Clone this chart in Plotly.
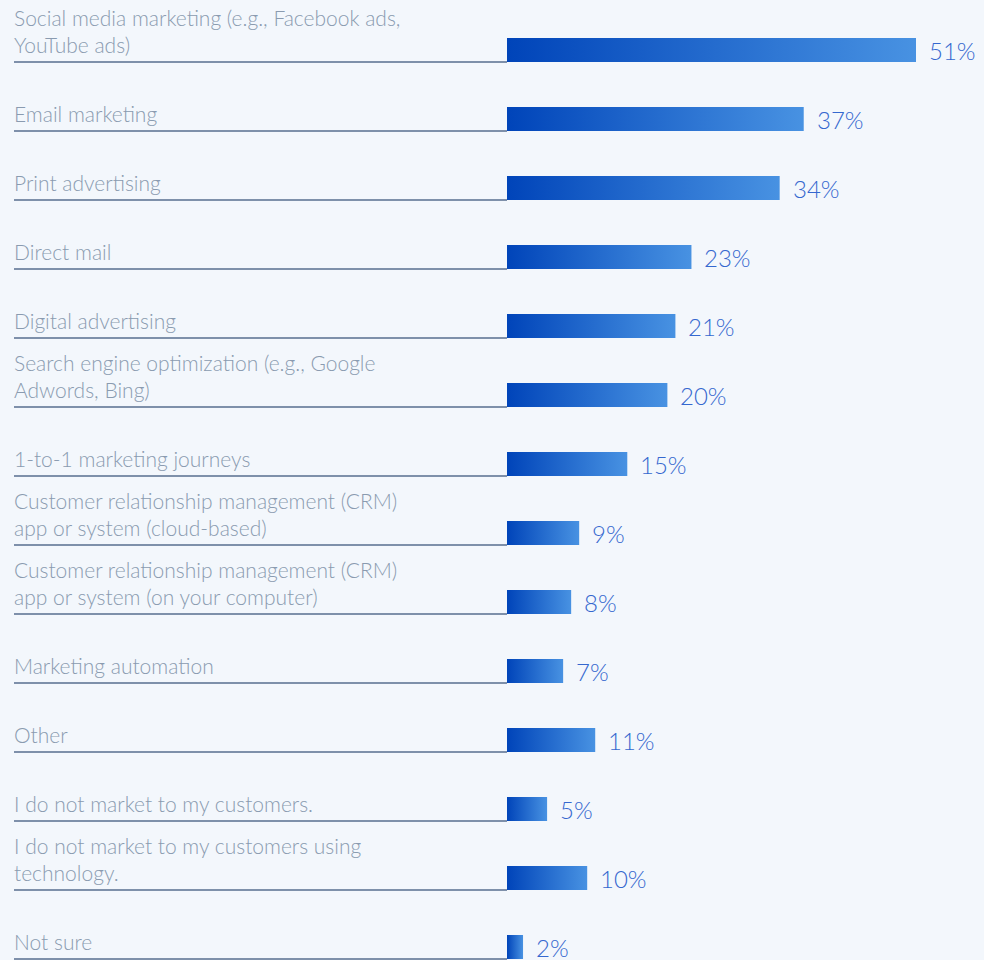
import plotly.graph_objects as go

categories = [
    "Social media marketing (e.g., Facebook ads,<br>YouTube ads)",
    "Email marketing",
    "Print advertising",
    "Direct mail",
    "Digital advertising",
    "Search engine optimization (e.g., Google<br>Adwords, Bing)",
    "1-to-1 marketing journeys",
    "Customer relationship management (CRM)<br>app or system (cloud-based)",
    "Customer relationship management (CRM)<br>app or system (on your computer)",
    "Marketing automation",
    "Other",
    "I do not market to my customers.",
    "I do not market to my customers using<br>technology.",
    "Not sure",
]
values = [51, 37, 34, 23, 21, 20, 15, 9, 8, 7, 11, 5, 10, 2]

W, H = 984, 960
BAR_X0_PX = 507
PX_PER_UNIT = 409 / 51
LABEL_X_PX = 14
ROW_PX = (947 - 50) / 13
FIRST_ROW_PX = 50
BAR_H_PX = 24
BAR_H = BAR_H_PX / ROW_PX  # in row units

x_min = -BAR_X0_PX / PX_PER_UNIT
x_max = (W - BAR_X0_PX) / PX_PER_UNIT
y_top = -FIRST_ROW_PX / ROW_PX
y_bot = (H - FIRST_ROW_PX) / ROW_PX
label_x = (LABEL_X_PX - BAR_X0_PX) / PX_PER_UNIT

FONT = "Lato, Open Sans, sans-serif"

fig = go.Figure()
for i, (cat, v) in enumerate(zip(categories, values)):
    y0, y1 = i - BAR_H / 2, i + BAR_H / 2
    fig.add_trace(go.Scatter(
        x=[0, v, v, 0, 0], y=[y0, y0, y1, y1, y0],
        mode="lines", line=dict(width=0), fill="toself",
        fillgradient=dict(type="horizontal",
                          colorscale=[[0, "#0044b9"], [1, "#4892e2"]]),
        hoverinfo="skip", showlegend=False,
    ))
    fig.add_annotation(x=v, y=i, text=f"{v}%", xref="x", yref="y",
                       xanchor="left", yanchor="middle", xshift=11, yshift=0,
                       showarrow=False,
                       font=dict(family=FONT, size=24, weight=300, color="#3568cf"))
    fig.add_annotation(x=label_x, y=i, text=cat, xref="x", yref="y",
                       xanchor="left", yanchor="bottom",
                       yshift=3 - BAR_H_PX / 2, xshift=-2, align="left",
                       showarrow=False,
                       font=dict(family=FONT, size=21, weight=300, color="#8a9bb0"))
    fig.add_shape(type="line", x0=label_x, x1=0, y0=y1, y1=y1, xref="x", yref="y",
                  line=dict(color="#0a2a58", width=1.2))

fig.update_layout(
    width=W, height=H,
    margin=dict(l=0, r=0, t=0, b=0),
    paper_bgcolor="#f3f7fc", plot_bgcolor="#f3f7fc",
    xaxis=dict(range=[x_min, x_max], visible=False, fixedrange=True),
    yaxis=dict(range=[y_bot, y_top], visible=False, fixedrange=True),
)
fig.write_html("out.html", config={"displayModeBar": False},
               post_script="document.body.style.margin='0';document.body.style.background='#f3f7fc';")
